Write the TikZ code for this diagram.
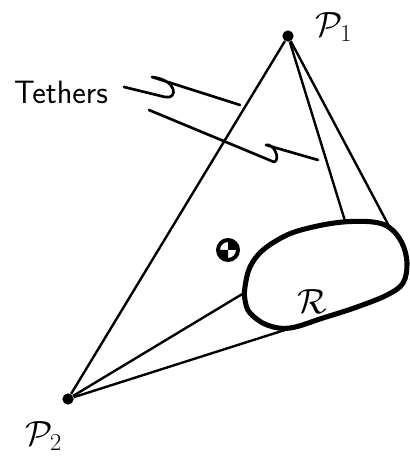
\documentclass[tikz,border=0pt]{standalone}
\usetikzlibrary{positioning}
\tikzset{
  tether/.style={line width=1.7pt},
  leader/.style={line width=1.9pt, line cap=round, line join=round},
  blob/.style={line width=3.6pt},
  dot/.style={circle, fill, inner sep=0pt, minimum size=8pt},
  lbl/.style={font=\fontsize{23}{26}\selectfont, inner sep=1pt},
}
\begin{document}
\begin{tikzpicture}[x=0.025cm, y=-0.025cm]
    \useasboundingbox (0,0) rectangle (409,457);

    % the two end points
    \node[dot] (P1) at (288,36) {};
    \node[dot] (P2) at (68,399) {};
    \node[lbl] (P1lab) at (334,27) {$\mathcal{P}_1$};
    \node[lbl] (P2lab) at (44,436) {$\mathcal{P}_2$};

    % the body
    \draw[blob] plot[smooth cycle, tension=0.6] coordinates {
        (245,287) (250,267) (263,250) (287,235) (313,227) (343,222)
        (373,222) (390,228) (402,243) (407,263) (403,283) (387,295)
        (357,307) (323,318) (290,328) (267,325) (250,313) (245,300)};
    \coordinate (Top) at (345,221);
    \coordinate (Right) at (390,228);
    \coordinate (Left) at (244,293);
    \coordinate (Bottom) at (288,329);
    \node[lbl] (R) at (312,302) {$\mathcal{R}$};

    % tethers
    \draw[tether] (P1) -- (P2);
    \draw[tether] (P1) -- (Top);
    \draw[tether] (P1) -- (Right);
    \draw[tether] (P2) -- (Left);
    \draw[tether] (P2) -- (Bottom);

    % centre of mass
    \coordinate (M) at (228,250);
    \fill (M) -- ++(-11,0) arc[start angle=180, end angle=90, radius=11] -- cycle;
    \fill (M) -- ++(11,0) arc[start angle=0, end angle=-90, radius=11] -- cycle;
    \draw[line width=2.8pt] (M) circle[radius=10];

    % label and leaders
    \node[font=\sffamily\fontsize{23}{26}\selectfont] (Teth) at (61,92) {Tethers};
    \coordinate (A1) at (124,87);
    \coordinate (A2) at (240,105);
    \coordinate (B1) at (149,110);
    \coordinate (B2) at (318,160);
    \draw[leader] (A1) -- (165,97) .. controls (178,100) and (178,80) .. (152,77) -- (A2);
    \draw[leader] (B1) -- (274,162) .. controls (281,160) and (274,143) .. (266,145) -- (B2);
\end{tikzpicture}
\end{document}
